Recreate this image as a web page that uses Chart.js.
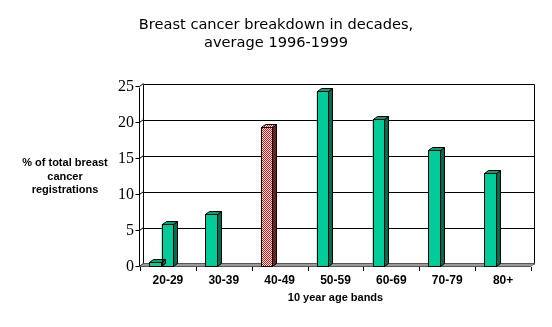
<!DOCTYPE html>
<html><head><meta charset="utf-8">
<script src="https://cdn.jsdelivr.net/npm/chart.js@4"></script>
<style>html,body{margin:0;padding:0;background:#fff;}#wrap{width:552px;height:327px;}</style>
</head><body><div id="wrap"><canvas id="c" width="552" height="327"></canvas></div>
<script>
// ---- data ----
const categories = ['20-29', '30-39', '40-49', '50-59', '60-69', '70-79', '80+'];
const seriesMain = [0.7, 7.3, 19.4, 24.4, 20.5, 16.2, 13.0];
const seriesSecond = [6.0, null, null, null, null, null, null];
const seriesEmpty = [null, null, null, null, null, null, null];
const yTicks = [0, 5, 10, 15, 20, 25];
const highlightCategory = '40-49';
const titleLines = ['Breast cancer breakdown in decades,', 'average 1996-1999'];
const yTitleLines = ['% of total breast', 'cancer', 'registrations'];
const xTitle = '10 year age bands';

// ---- styles ----
const DX = 4, DY = 3;
const GREEN = '#00CC99', GREEN_SIDE = '#006B4F', GREEN_TOP = '#00A37A';
function checker(c1, c2) {
  const p = document.createElement('canvas'); p.width = 2; p.height = 2;
  const g = p.getContext('2d');
  g.fillStyle = c2; g.fillRect(0, 0, 2, 2);
  g.fillStyle = c1; g.fillRect(0, 0, 1, 1); g.fillRect(1, 1, 1, 1);
  return g.createPattern(p, 'repeat');
}
const PAT_FRONT = checker('#FF0000', '#FFFFFF');
const PAT_SIDE = checker('#990000', '#404040');
const PAT_TOP = checker('#FF0000', '#FFFFFF');

function frontColor(i) { return categories[i] === highlightCategory ? PAT_FRONT : GREEN; }

const threeD = {
  id: 'threeD',
  beforeDatasetsDraw(chart) {
    const { ctx, chartArea: a, scales: { x, y } } = chart;
    ctx.save();
    ctx.lineWidth = 1; ctx.strokeStyle = '#000';
    const L = a.left - 0.5, R = a.right - 0.5;
    const topB = Math.round(a.top - DY) + 0.5, botB = Math.round(a.bottom - DY) + 0.5;
    yTicks.forEach(v => {
      if (v === 0) return;
      const py = Math.round(y.getPixelForValue(v) - DY) + 0.5;
      ctx.beginPath(); ctx.moveTo(L + DX, py); ctx.lineTo(R + DX, py); ctx.stroke();
    });
    ctx.beginPath(); ctx.moveTo(R + DX, topB); ctx.lineTo(R + DX, botB); ctx.stroke();
    ctx.beginPath(); ctx.moveTo(L + DX, topB); ctx.lineTo(L + DX, botB); ctx.stroke();
    ctx.beginPath(); ctx.moveTo(L, Math.round(a.top) + 0.5); ctx.lineTo(L, a.bottom); ctx.stroke();
    yTicks.forEach(v => {
      const py = Math.round(y.getPixelForValue(v)) - 0.5;
      ctx.beginPath(); ctx.moveTo(L - 4, py); ctx.lineTo(L, py); ctx.lineTo(L + DX, py - DY); ctx.stroke();
    });
    ctx.fillStyle = '#999999'; ctx.strokeStyle = '#555555';
    ctx.beginPath();
    ctx.moveTo(L, a.bottom - 0.5); ctx.lineTo(R, a.bottom - 0.5);
    ctx.lineTo(R + DX, a.bottom - 0.5 - DY); ctx.lineTo(L + DX, a.bottom - 0.5 - DY);
    ctx.closePath(); ctx.fill(); ctx.stroke();
    ctx.strokeStyle = '#000';
    const w = (a.right - a.left) / categories.length;
    for (let i = 0; i <= categories.length; i++) {
      const px = Math.round(a.left + i * w) + 0.5;
      ctx.beginPath(); ctx.moveTo(px, a.bottom); ctx.lineTo(px, a.bottom + 4); ctx.stroke();
    }
    ctx.restore();
  },
  afterDatasetsDraw(chart) {
    const { ctx } = chart;
    ctx.save();
    ctx.lineWidth = 1; ctx.strokeStyle = '#000';
    chart.data.datasets.forEach((ds, di) => {
      const meta = chart.getDatasetMeta(di);
      meta.data.forEach((el, i) => {
        if (ds.data[i] === null || ds.data[i] === undefined) return;
        const { x: cx, y: top, base, width } = el.getProps(['x', 'y', 'base', 'width'], true);
        const l = Math.round(cx - width / 2) + 0.5, r = Math.round(cx + width / 2) - 0.5;
        const t = Math.round(top) + 0.5, b = Math.round(base) - 0.5;
        const hl = categories[i] === highlightCategory;
        ctx.fillStyle = hl ? PAT_SIDE : GREEN_SIDE;
        ctx.beginPath(); ctx.moveTo(r, t); ctx.lineTo(r + DX, t - DY); ctx.lineTo(r + DX, b - DY); ctx.lineTo(r, b); ctx.closePath(); ctx.fill(); ctx.stroke();
        ctx.fillStyle = hl ? PAT_TOP : GREEN_TOP;
        ctx.beginPath(); ctx.moveTo(l, t); ctx.lineTo(l + DX, t - DY); ctx.lineTo(r + DX, t - DY); ctx.lineTo(r, t); ctx.closePath(); ctx.fill(); ctx.stroke();
        ctx.strokeRect(l, t, r - l, b - t);
      });
    });
    ctx.restore();
  },
  afterDraw(chart) {
    const { ctx } = chart;
    ctx.save();
    ctx.fillStyle = '#000';
    ctx.textAlign = 'center'; ctx.textBaseline = 'middle';
    ctx.font = '14.6px "DejaVu Sans"';
    titleLines.forEach((s, k) => ctx.fillText(s, 276, 25 + k * 18.3));
    ctx.font = 'bold 11px "Liberation Sans"';
    yTitleLines.forEach((s, k) => ctx.fillText(s, 65, 163 + k * 13.5));
    ctx.restore();
  }
};

new Chart(document.getElementById('c'), {
  type: 'bar',
  data: {
    labels: categories,
    datasets: [
      { label: 'A', data: seriesMain, backgroundColor: seriesMain.map((v, i) => frontColor(i)), borderWidth: 0 },
      { label: 'B', data: seriesSecond, backgroundColor: GREEN, borderWidth: 0 },
      { label: 'C', data: seriesEmpty, backgroundColor: GREEN, borderWidth: 0 }
    ]
  },
  options: {
    responsive: false, animation: false, devicePixelRatio: 1,
    layout: { padding: { left: 0, right: 21, top: 87, bottom: 0 } },
    categoryPercentage: 0.672, barPercentage: 1,
    plugins: {
      legend: { display: false }, tooltip: { enabled: false }, title: { display: false }
    },
    scales: {
      x: {
        grid: { display: false, drawTicks: false }, border: { display: false },
        ticks: { color: '#000', font: { family: '"Liberation Sans"', size: 12, weight: 'bold' }, padding: 6, maxRotation: 0 },
        title: { display: true, text: xTitle, color: '#000', font: { family: '"Liberation Sans"', size: 11, weight: 'bold' }, padding: { top: 0, bottom: 22 } },
        afterFit(s) { s.height = 60; }
      },
      y: {
        min: 0, max: 25,
        grid: { display: false, drawTicks: false }, border: { display: false },
        ticks: { stepSize: 5, color: '#000', font: { family: '"Liberation Serif"', size: 16 }, padding: 6 },
        afterFit(s) { s.width = 140; }
      }
    }
  },
  plugins: [threeD]
});
</script>
</body></html>
